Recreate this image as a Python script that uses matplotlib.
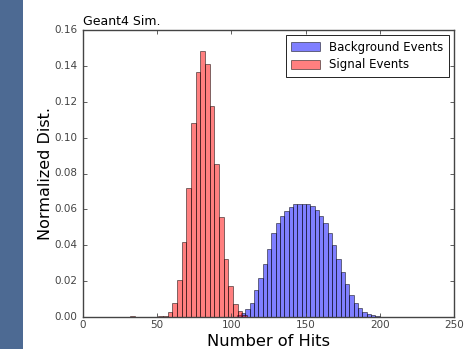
import matplotlib
matplotlib.use("Agg")
import matplotlib.pyplot as plt
from matplotlib.patches import Rectangle
import numpy as np

# signal histogram (fraction of events per bin)
sig_first_edge = 31.9
sig_bin_width = 3.14
sig_frac = [0.0003, 0.0, 0.0, 0.0, 0.0, 0.0, 0.0003,
            0.0005, 0.0028, 0.0078, 0.0205, 0.0419, 0.072, 0.108, 0.1367,
            0.1485, 0.141, 0.1178, 0.0852, 0.0558, 0.0326, 0.0171, 0.0073,
            0.0034, 0.001]

# background histogram
bkg_first_edge = 103.5
bkg_bin_width = 2.92
bkg_frac = [0.001, 0.002, 0.0043, 0.008, 0.015, 0.0216, 0.0295, 0.0377,
            0.0466, 0.0522, 0.0563, 0.0593, 0.0615, 0.0628, 0.063, 0.0632,
            0.0628, 0.0618, 0.0595, 0.0562, 0.0522, 0.0468, 0.040, 0.0325,
            0.0253, 0.0183, 0.0122, 0.0078, 0.0048, 0.0027, 0.0016, 0.0009,
            0.0003]

x_ticks = [0, 50, 100, 150, 200, 250]
y_ticks = [0.00, 0.02, 0.04, 0.06, 0.08, 0.10, 0.12, 0.14, 0.16]

plt.style.use('classic')
fig = plt.figure(figsize=(4.71, 3.49), dpi=100, facecolor='white')
# slide background strip on the left
fig.patches.append(Rectangle((0, 0), 23 / 471, 1, transform=fig.transFigure,
                             facecolor='#4d6a93', edgecolor='none', zorder=-1))
ax = fig.add_axes([83 / 471, 32 / 349, 371 / 471, 287 / 349])
ax.set_facecolor('white')

bkg_left = bkg_first_edge + bkg_bin_width * np.arange(len(bkg_frac))
sig_left = sig_first_edge + sig_bin_width * np.arange(len(sig_frac))

ax.bar(bkg_left, bkg_frac, width=bkg_bin_width, align='edge', color='b',
       alpha=0.5, edgecolor='k', linewidth=0.7, label='Background Events')
ax.bar(sig_left, sig_frac, width=sig_bin_width, align='edge', color='r',
       alpha=0.5, edgecolor='k', linewidth=0.7, label='Signal Events')

ax.set_xlim(0, 250)
ax.set_ylim(0, 0.16)
ax.set_xticks(x_ticks)
ax.set_yticks(y_ticks)
ax.set_yticklabels(['%.2f' % v for v in y_ticks])
ax.tick_params(labelsize=7.5, length=3, width=0.6, colors='#444444', labelcolor='#444444')
ax.tick_params(axis='x', pad=2)
for s in ax.spines.values():
    s.set_linewidth(1.0)
    s.set_color('#444444')

ax.set_xlabel('Number of Hits', fontsize=11.7)
# keep the label right at the bottom edge, as in the slide
ax.xaxis.set_label_coords(0.5, -32 / 287)
ax.xaxis.label.set_va('bottom')
ax.set_ylabel('Normalized Dist.', fontsize=11.5, labelpad=1)
ax.text(0, 1.008, 'Geant4 Sim.', transform=ax.transAxes, fontsize=9,
        ha='left', va='bottom')

leg = ax.legend(loc='upper right', fontsize=8.5, borderaxespad=0.45,
                handlelength=2.4, handleheight=0.75, labelspacing=0.4,
                borderpad=0.45, handletextpad=0.8, fancybox=False)
leg.get_frame().set_linewidth(0.6)

fig.savefig('out.png', dpi=100, facecolor='white')
